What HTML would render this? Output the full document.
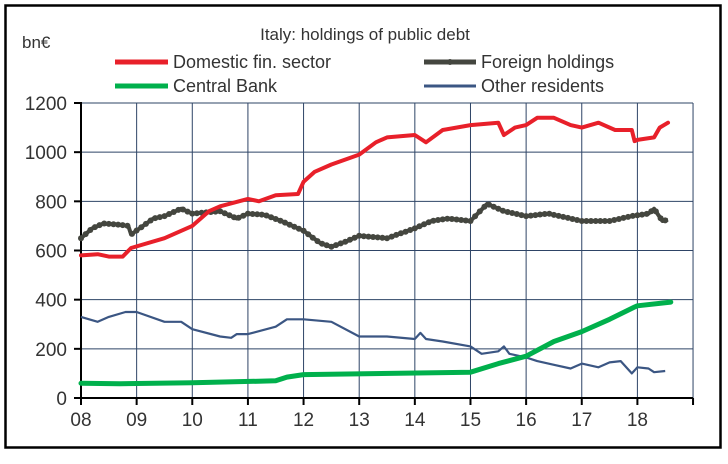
<!DOCTYPE html>
<html><head><meta charset="utf-8"><style>
body{margin:0;background:#fff;}
svg text{font-family:"Liberation Sans",sans-serif;fill:#333;}
</style></head><body>
<svg id="s" width="728" height="459" xmlns="http://www.w3.org/2000/svg">
<rect x="5.5" y="5.5" width="715" height="442" fill="#fff" stroke="#000" stroke-width="2.5"/>
<text x="365" y="40" font-size="17" text-anchor="middle">Italy: holdings of public debt</text>
<text x="22" y="48" font-size="17">bn€</text>
<line x1="115" y1="62" x2="168" y2="62" stroke="#e8202a" stroke-width="5"/>
<text x="173" y="68" font-size="18">Domestic fin. sector</text>
<line x1="424" y1="62" x2="476" y2="62" stroke="#44463f" stroke-width="5"/>
<circle cx="450" cy="62" r="3" fill="#44463f"/>
<text x="481" y="68" font-size="18">Foreign holdings</text>
<line x1="115" y1="86" x2="168" y2="86" stroke="#00b04c" stroke-width="5"/>
<text x="173" y="92" font-size="18">Central Bank</text>
<line x1="424" y1="86" x2="476" y2="86" stroke="#3b5683" stroke-width="3"/>
<text x="481" y="92" font-size="18">Other residents</text>
<g id="grid"></g>
<g id="series"></g>
</svg>
<script>
var X0=81,XW=55.64,Y0=398,K=295/1200;
function px(t){return X0+(t-8)*XW}function py(v){return Y0-v*K}
var g=document.getElementById('grid'),s=document.getElementById('series'),h='';
for(var i=1;i<=6;i++){h+='<line x1="81" x2="693" y1="'+py(i*200)+'" y2="'+py(i*200)+'" stroke="#2e4466" stroke-width="1"/>';}
for(var y=9;y<=19;y++){h+='<line x1="'+px(y)+'" x2="'+px(y)+'" y1="103" y2="398" stroke="#2e4466" stroke-width="1"/>';}
h+='<line x1="81" y1="102" x2="81" y2="399" stroke="#000" stroke-width="2"/>';
h+='<line x1="74" y1="398" x2="693" y2="398" stroke="#000" stroke-width="2"/>';
for(var i=0;i<=6;i++){h+='<line x1="74" x2="81" y1="'+py(i*200)+'" y2="'+py(i*200)+'" stroke="#000" stroke-width="2"/>';
h+='<text x="67" y="'+(py(i*200)+7)+'" font-size="19" text-anchor="end">'+(i*200)+'</text>';}
for(var y=8;y<=19;y++){h+='<line x1="'+px(y)+'" x2="'+px(y)+'" y1="398" y2="405" stroke="#000" stroke-width="2"/>';
if(y<19)h+='<text x="'+px(y)+'" y="426" font-size="19" text-anchor="middle">'+(y<10?'0'+y:y)+'</text>';}
g.innerHTML=h;
function interp(d,t){for(var i=0;i<d.length-1;i++){if(t>=d[i][0]&&t<=d[i+1][0]){var f=(t-d[i][0])/(d[i+1][0]-d[i][0]);return d[i][1]+f*(d[i+1][1]-d[i][1]);}}return null;}
function pts(d){var a=[];var end=d[d.length-1][0];for(var t=8;t<=end+1e-6;t+=1/12){var v=interp(d,Math.min(t,end));a.push([px(t),py(v)]);}return a;}
function raw(d){return d.map(function(p){return px(p[0]).toFixed(1)+','+py(p[1]).toFixed(1)}).join(' ');}
var red=[[8,580],[8.3,585],[8.5,575],[8.75,575],[8.9,610],[9.5,650],[10,700],[10.3,760],[10.5,780],[11,810],[11.2,800],[11.5,825],[11.9,830],[12,880],[12.2,920],[12.5,950],[13,990],[13.3,1040],[13.5,1060],[14,1070],[14.2,1040],[14.5,1090],[15,1110],[15.5,1120],[15.6,1070],[15.8,1100],[16,1110],[16.2,1140],[16.5,1140],[16.8,1110],[17,1100],[17.3,1120],[17.6,1090],[17.9,1090],[17.95,1045],[18,1050],[18.3,1060],[18.4,1100],[18.55,1120]];
var gr=[[8,650],[8.2,690],[8.4,710],[8.7,705],[8.85,700],[8.9,665],[9.3,730],[9.5,740],[9.8,770],[10,750],[10.5,760],[10.8,730],[11,750],[11.3,745],[11.6,720],[12,680],[12.3,630],[12.5,615],[12.8,640],[13,660],[13.5,650],[14,690],[14.3,720],[14.6,730],[15,720],[15.3,790],[15.6,760],[16,740],[16.4,750],[16.8,730],[17,720],[17.5,720],[17.9,740],[18.2,750],[18.3,770],[18.45,720],[18.55,725]];
var bl=[[8,330],[8.3,310],[8.5,330],[8.8,350],[9,350],[9.5,310],[9.8,310],[10,280],[10.5,250],[10.7,245],[10.8,260],[11,260],[11.5,290],[11.7,320],[12,320],[12.5,310],[13,250],[13.5,250],[14,240],[14.1,265],[14.2,240],[14.5,230],[15,210],[15.2,180],[15.5,190],[15.6,210],[15.7,180],[16,165],[16.2,150],[16.5,135],[16.8,120],[17,140],[17.3,125],[17.5,145],[17.7,150],[17.9,100],[18,125],[18.2,120],[18.3,105],[18.5,110]];
var gn=[[8,60],[8.7,58],[10,62],[11.5,70],[11.7,85],[12,95],[15,105],[15.5,140],[16,170],[16.5,230],[17,270],[17.5,320],[17.95,370],[18,375],[18.6,390]];
var o='';
o+='<polyline points="'+raw(bl)+'" fill="none" stroke="#3b5683" stroke-width="2.2" stroke-linejoin="round"/>';
o+='<polyline points="'+raw(gn)+'" fill="none" stroke="#00b04c" stroke-width="5" stroke-linejoin="round" stroke-linecap="round"/>';
o+='<polyline points="'+raw(gr)+'" fill="none" stroke="#44463f" stroke-width="4" stroke-linejoin="round"/>';
pts(gr).forEach(function(p){o+='<circle cx="'+p[0].toFixed(1)+'" cy="'+p[1].toFixed(1)+'" r="3" fill="#44463f"/>';});
o+='<polyline points="'+raw(red)+'" fill="none" stroke="#e8202a" stroke-width="4" stroke-linejoin="round" stroke-linecap="round"/>';
s.innerHTML=o;
</script>
</body></html>
